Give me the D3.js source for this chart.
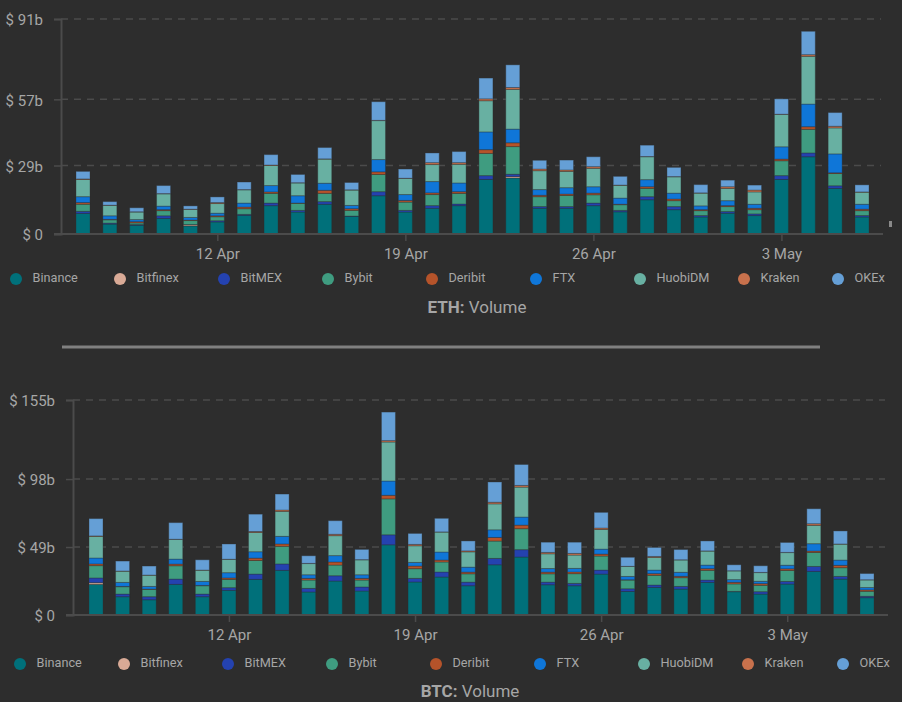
<!DOCTYPE html>
<html>
<head>
<meta charset="utf-8">
<script src="https://d3js.org/d3.v7.min.js"></script>
<style>
  html, body { margin: 0; padding: 0; background: #2d2d2d; overflow: hidden; }
  svg { display: block; font-family: Roboto, sans-serif; }
</style>
</head>
<body>
<div class="container"></div>
<script>
// days on the x axis
var days = ["2021-04-07","2021-04-08","2021-04-09","2021-04-10","2021-04-11","2021-04-12","2021-04-13","2021-04-14","2021-04-15","2021-04-16",
  "2021-04-17","2021-04-18","2021-04-19","2021-04-20","2021-04-21","2021-04-22","2021-04-23","2021-04-24","2021-04-25","2021-04-26",
  "2021-04-27","2021-04-28","2021-04-29","2021-04-30","2021-05-01","2021-05-02","2021-05-03","2021-05-04","2021-05-05","2021-05-06"];
var dayTicks = ["2021-04-12","2021-04-19","2021-04-26","2021-05-03"];

var exchanges = ["Binance","Bitfinex","BitMEX","Bybit","Deribit","FTX","HuobiDM","Kraken","OKEx"];
var exchangeColors = ["#00707a","#d9aa96","#2442b0","#3f9c80","#b5532a","#0f76d8","#68b0a2","#c8714c","#659fd6"];

// ETH volume, $b
var ethBinance = [8.7,4.2,3.7,6.6,3.4,5.1,7.9,12,9.3,12.6,7.5,16.2,9.3,10.9,12,23.1,23.7,10.9,10.9,12,9.4,14.5,10.3,7.2,8.8,7.8,23.1,32.7,19.3,7.2];
var ethBitfinex = [0,0,0,0,0.5,0,0,0,0,0,0,0,0,0,0,0,0.6,0,0,0,0,0,0,0,0,0,0,0,0,0];
var ethBitmex = [0.9,0.4,0.3,1.1,0.1,0.5,0.4,1.1,0.7,1.1,0.1,1.7,0.7,1.1,0.7,1.6,1,0.7,0.7,1.1,0.6,1.3,1.3,0.6,0.7,0.7,1.6,1.6,1.1,0.6];
var ethBybit = [3,1.4,0.7,2.2,1.7,1.7,2.4,4.1,3,3.5,2.4,7.3,3.5,4.7,4.5,9.4,11.7,4.2,4.7,3.5,2.4,3.5,2.5,2.1,2.1,1.8,6.3,10,5.2,2.1];
var ethDeribit = [0.7,0.2,0.5,0.4,0.2,0.4,0.7,0.6,0.1,1.3,0.7,1.1,0.7,0.7,0.7,1.6,1.6,0.6,0.6,0.7,0.2,0.7,0.7,0.4,0.4,0.6,0.7,1.1,0.3,0.6];
var ethFtx = [2.5,1.5,0.9,1.5,1.1,1.1,1.7,2.7,3.1,3,1.4,5.2,2.5,4.8,3.7,7.5,5.8,2.4,2.7,2.7,2.6,3,2.5,1.6,2.1,1.7,5.2,9.6,8,2.1];
var ethHuobi = [7.3,4.4,3.2,5.2,3.4,4.1,5.6,8.5,5.4,10.2,6.5,16.5,6.8,7.2,7.9,13.2,16.8,8,6.9,7.8,5.4,9.7,6.9,5.4,5.2,5.2,13.7,20.2,11,5.1];
var ethKraken = [0.2,0.1,0.1,0.1,0.1,0.4,0.1,0.2,0.1,0.1,0.1,0.1,0.1,0.8,0.7,0.8,0.8,0.7,0.6,0.7,0.1,0.1,0.1,0.1,0.7,0.8,0.1,0.7,0.7,0.1];
var ethOkex = [3.2,1.5,1.7,3.4,1.4,2.4,3.2,4.4,3.5,4.8,3.1,7.9,3.9,4.1,4.7,8.8,9.6,3.7,4.2,4.2,3.7,4.8,3.9,3.5,2.8,2.1,6.5,9.9,5.8,3];
var ethTicks = [0,29,57,91];

// BTC volume, $b
var btcBinance = [22.1,13.2,11,22.1,13.2,17.8,25.7,32.2,16.6,24.5,17.3,50.6,23.8,27.4,21.1,36.2,41.8,21.8,21.1,29.5,17,19.9,18.7,23.5,16.8,15.1,22.3,31.4,25.9,12.5];
var btcBitfinex = [1.2,0,0,0,0,0,0,0,0,0,0,0,0,0,0,0,0,0,0,0,0,0,0,0,0,0,0,0,0,0];
var btcBitmex = [3.4,1.9,2.2,3.8,1.9,1.9,3.8,4.6,2.6,3.8,2.9,7.2,2.6,3.6,2.6,4.6,5.3,1.9,1.7,2.9,1.9,1.7,1.9,1.7,0.2,1.7,1.9,3.6,1.9,1];
var btcBybit = [8.9,5.3,5.3,9.6,6,6,9.8,12.7,6,7.7,5,25.9,7,7.2,6,12.5,15.1,6,7,10.1,6.3,7,6.3,7,5.4,4.6,7.9,10.1,6.3,3.6];
var btcDeribit = [1.2,0.2,0.2,1.2,0.2,1,1.7,1.7,1.2,2.2,1.2,2.6,1.9,1.4,1.2,2.6,2.6,1.2,1.2,1.4,0.2,1.2,1,1.2,1.2,1.2,1.2,1,1.7,1];
var btcFtx = [4.3,2.9,1.9,3.6,2.9,3.8,4.6,5.5,2.6,4.6,2.6,10.3,2.6,5.8,3.6,5.5,5.8,2.6,2.6,3.6,2.4,2.6,2.9,2.6,1.9,1.7,2.6,5.3,3.8,1.7];
var btcHuobi = [15.6,8.1,8.1,14.2,8.1,9.6,13.9,18,8.1,14.4,10.8,28.1,12,14.4,11,18.7,21.6,10.6,9.6,14.2,7.2,9.1,8.9,10.1,6.3,6.3,9.1,13.2,11.5,5.5];
var btcKraken = [0.3,0.1,0.1,0.1,0.1,0.1,0.7,1,0.1,1,0.1,1,1,0.1,0.7,1.2,1.2,1,1.2,1,0.1,0.7,0.1,0.1,0.1,0.1,0.1,1.2,0.1,0.1];
var btcOkex = [12.5,7.2,6.5,12,7.4,11,12.5,11.5,5.5,9.8,7.4,20.6,7.9,9.8,7.2,14.6,15.1,7.4,8.1,11.3,6.5,6.5,7.4,7.2,4.3,4.8,7.2,10.8,9.4,4.5];
var btcTicks = [0,49,98,155];

var parseDay = d3.utcParse("%Y-%m-%d");
var formatDay = d3.utcFormat("%-d %b");
var dates = days.map(parseDay);
var tickDates = dayTicks.map(parseDay);

var w = 902, h = 702;
var svg = d3.select(".container").append("svg").attr("width", w).attr("height", h);

var axisColor = "#4b4b4b", textColor = "#a6a6a6";

function drawPanel(p) {
  var g = svg.append("g");

  var x = d3.scaleUtc().domain(d3.extent(dates)).range([p.x0, p.x1]);
  var y = d3.scaleLinear().domain([0, p.ticks[p.ticks.length - 1]]).range([p.yBase, p.yTop]);

  // dashed grid
  g.selectAll("line.grid").data(p.ticks.slice(1)).enter().append("line")
    .attr("class", "grid")
    .attr("x1", p.axisX).attr("x2", p.right)
    .attr("y1", function (d) { return y(d); })
    .attr("y2", function (d) { return y(d); })
    .style("stroke", axisColor).style("stroke-width", 1.5).style("stroke-dasharray", "7 6");

  // stacked bars
  var rows = dates.map(function (d, i) {
    var row = { date: d };
    exchanges.forEach(function (name, k) { row[name] = p.series[k][i]; });
    return row;
  });
  var stack = d3.stack().keys(exchanges)(rows);

  g.selectAll("g.layer").data(stack).enter().append("g")
    .attr("class", "layer")
    .style("fill", function (d, k) { return exchangeColors[k]; })
    .selectAll("rect").data(function (d) { return d; }).enter().append("rect")
    .attr("x", function (d) { return x(d.data.date) - 7; })
    .attr("width", 14)
    .attr("y", function (d) { return y(d[1]); })
    .attr("height", function (d) { return y(d[0]) - y(d[1]); })
    .style("stroke", "rgba(45,45,45,0.35)")
    .style("stroke-width", 1);

  // y axis
  var yAxis = d3.axisLeft(y).tickValues(p.ticks).tickSize(7).tickPadding(11)
    .tickFormat(function (d) { return "$ " + d + (d ? "b" : ""); });
  var yg = g.append("g").attr("transform", "translate(" + p.axisX + ",0)").call(yAxis);
  yg.selectAll("text").attr("y", 1);

  // x axis
  var xAxis = d3.axisBottom(x).tickValues(tickDates).tickSize(7).tickPadding(7).tickFormat(formatDay);
  var xg = g.append("g").attr("transform", "translate(0," + p.yBase + ")").call(xAxis);
  xg.select(".domain").remove();

  g.append("line")
    .attr("x1", p.axisX - 7).attr("x2", p.baseEnd)
    .attr("y1", p.yBase).attr("y2", p.yBase)
    .style("stroke", axisColor).style("stroke-width", 2);

  [yg, xg].forEach(function (a) {
    a.selectAll("line").style("stroke", axisColor).style("stroke-width", 1.5);
    a.selectAll("text").style("fill", textColor).style("font-size", "15px").style("font-family", "Roboto, sans-serif");
  });
  yg.select(".domain").style("stroke", axisColor).style("stroke-width", 2);

  // legend
  var item = g.selectAll("g.legend").data(exchanges).enter().append("g")
    .attr("class", "legend")
    .attr("transform", function (d, k) { return "translate(" + p.legendX[k] + "," + p.legendY + ")"; });
  item.append("circle").attr("r", 6).style("fill", function (d, k) { return exchangeColors[k]; });
  item.append("text").attr("x", 16.5).attr("y", -1).attr("dy", "0.35em")
    .style("fill", textColor).style("font-size", "12.7px")
    .text(function (d) { return d; });

  // title
  var title = g.append("text").attr("x", p.titleX).attr("y", p.titleY)
    .attr("text-anchor", "middle").style("fill", textColor).style("font-size", "17px");
  title.append("tspan").style("font-weight", "bold").text(p.name + ": ");
  title.append("tspan").text("Volume");
}

drawPanel({
  name: "ETH", ticks: ethTicks,
  series: [ethBinance, ethBitfinex, ethBitmex, ethBybit, ethDeribit, ethFtx, ethHuobi, ethKraken, ethOkex],
  x0: 83, x1: 862, yBase: 234, yTop: 19, axisX: 61, right: 881, baseEnd: 883,
  legendY: 279, legendX: [16,120,224,328,432,536,640,744,838],
  titleX: 477, titleY: 313
});

drawPanel({
  name: "BTC", ticks: btcTicks,
  series: [btcBinance, btcBitfinex, btcBitmex, btcBybit, btcDeribit, btcFtx, btcHuobi, btcKraken, btcOkex],
  x0: 96, x1: 867, yBase: 615, yTop: 400, axisX: 73, right: 885, baseEnd: 888,
  legendY: 664, legendX: [20,124,228,332,436,540,644,748,843],
  titleX: 470, titleY: 697
});

// divider between the two charts
svg.append("rect").attr("x", 62).attr("y", 345.5).attr("width", 758).attr("height", 3).style("fill", "#808080");
// small handle on the right edge
svg.append("rect").attr("x", 889).attr("y", 221).attr("width", 3).attr("height", 6).style("fill", "#8a8a8a");
</script>
</body>
</html>
